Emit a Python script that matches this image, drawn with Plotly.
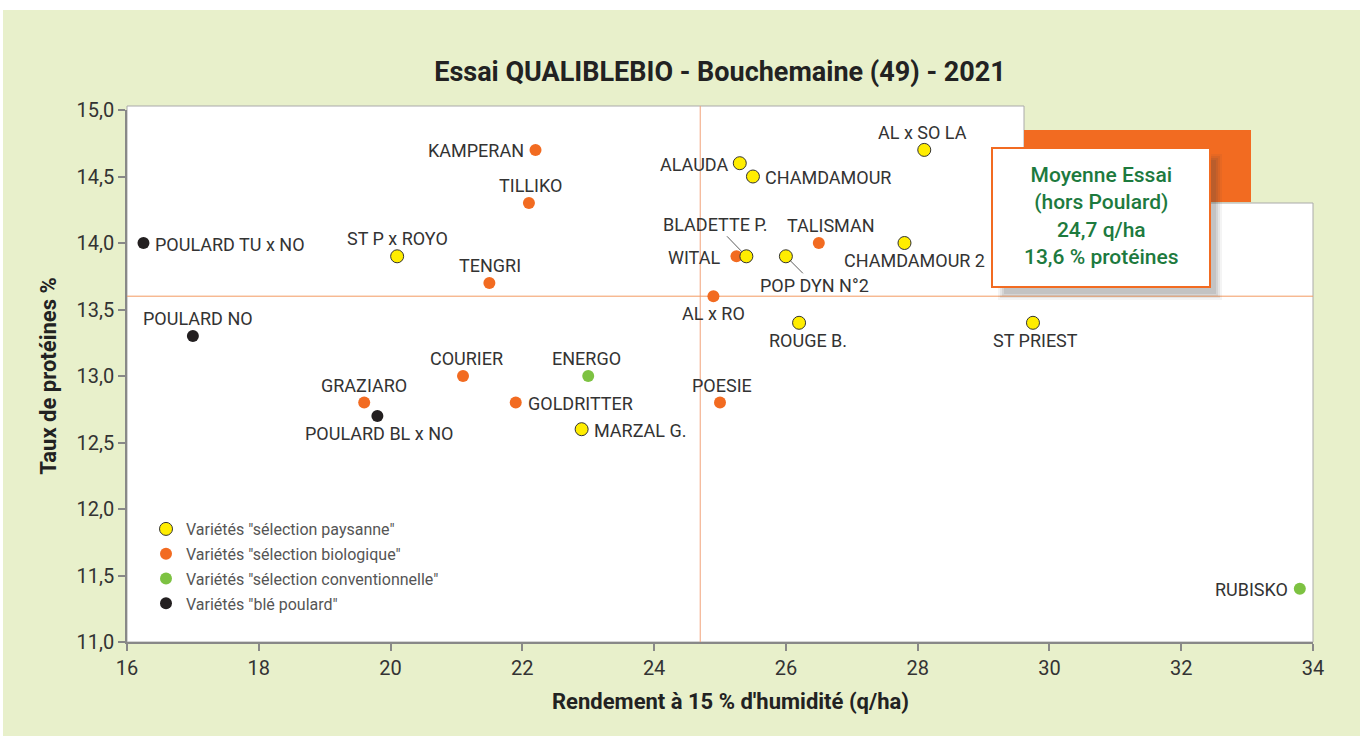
import plotly.graph_objects as go

# ---------------- data ----------------
pays_names = ["ST P x ROYO", "MARZAL G.", "ALAUDA", "CHAMDAMOUR", "BLADETTE P.",
              "POP DYN N°2", "CHAMDAMOUR 2", "AL x SO LA", "ROUGE B.", "ST PRIEST"]
pays_x = [20.1, 22.9, 25.3, 25.5, 25.4, 26.0, 27.8, 28.1, 26.2, 29.75]
pays_y = [13.9, 12.6, 14.6, 14.5, 13.9, 13.9, 14.0, 14.7, 13.4, 13.4]

bio_names = ["KAMPERAN", "TILLIKO", "TENGRI", "COURIER", "GRAZIARO",
             "GOLDRITTER", "POESIE", "AL x RO", "WITAL", "TALISMAN"]
bio_x = [22.2, 22.1, 21.5, 21.1, 19.6, 21.9, 25.0, 24.9, 25.25, 26.5]
bio_y = [14.7, 14.3, 13.7, 13.0, 12.8, 12.8, 12.8, 13.6, 13.9, 14.0]

conv_names = ["ENERGO", "RUBISKO"]
conv_x = [23.0, 33.8]
conv_y = [13.0, 11.4]

poul_names = ["POULARD TU x NO", "POULARD NO", "POULARD BL x NO"]
poul_x = [16.25, 17.0, 19.8]
poul_y = [14.0, 13.3, 12.7]

mean_yield = 24.7
mean_protein = 13.6

x_ticks = [16, 18, 20, 22, 24, 26, 28, 30, 32, 34]
y_ticks = [11.0, 11.5, 12.0, 12.5, 13.0, 13.5, 14.0, 14.5, 15.0]

# ---------------- styles ----------------
W, H = 1360, 736
ML, MR, MT, MB = 127, 47, 110, 94
PW, PH = W - ML - MR, H - MT - MB

def px(xp):
    return (xp - ML) / PW

def py(yp):
    return (H - MB - yp) / PH

GREEN_BG = "#E8F0CB"
ORANGE = "#F26B21"
YELLOW = "#FFED00"
LGREEN = "#7DC242"
BLACK = "#231F20"
TXT = "#333333"
FONT = "Roboto"

# label placement (style): (mode, xshift, yshift)
placement = {
    "POULARD TU x NO": ("right", 0, 0), "KAMPERAN": ("left", 0, 0),
    "TILLIKO": ("top", 2, 0), "ST P x ROYO": ("top", 0, 0), "TENGRI": ("top", 1, 0),
    "POULARD NO": ("top", 5, 0), "COURIER": ("top", 3, 0), "ENERGO": ("top", -2, 0),
    "GRAZIARO": ("top", 0, 0), "POULARD BL x NO": ("below", 2, 0),
    "GOLDRITTER": ("right", 0, 0), "MARZAL G.": ("right", 0, 0),
    "POESIE": ("top", 2, 0), "AL x RO": ("below", 0, 0), "ALAUDA": ("left", 0, 0),
    "CHAMDAMOUR": ("right", 0, 0), "WITAL": ("left", -4, 0),
    "TALISMAN": ("top", 12, 0), "CHAMDAMOUR 2": ("below", 10, 0),
    "AL x SO LA": ("top", -2, 0), "ROUGE B.": ("below", 9, 0),
    "ST PRIEST": ("below", 3, 0), "RUBISKO": ("left", 0, 0),
    "BLADETTE P.": ("arrow", -31, -32), "POP DYN N°2": ("arrow", 29, 29),
}

fig = go.Figure()

fig.add_trace(go.Scatter(
    x=bio_x, y=bio_y, mode="markers", name='Variétés "sélection biologique"',
    marker=dict(color=ORANGE, size=12, line=dict(width=0)),
    legendgroup="b", legendrank=2))
fig.add_trace(go.Scatter(
    x=conv_x, y=conv_y, mode="markers", name='Variétés "sélection conventionnelle"',
    marker=dict(color=LGREEN, size=12, line=dict(width=0)),
    legendgroup="c", legendrank=3))
fig.add_trace(go.Scatter(
    x=poul_x, y=poul_y, mode="markers", name='Variétés "blé poulard"',
    marker=dict(color=BLACK, size=12, line=dict(width=0)),
    legendgroup="d", legendrank=4))
fig.add_trace(go.Scatter(
    x=pays_x, y=pays_y, mode="markers", name='Variétés "sélection paysanne"',
    marker=dict(color=YELLOW, size=13, line=dict(width=1, color="#333333")),
    legendgroup="a", legendrank=1))

annotations = []
all_pts = (list(zip(pays_names, pays_x, pays_y)) + list(zip(bio_names, bio_x, bio_y))
           + list(zip(conv_names, conv_x, conv_y)) + list(zip(poul_names, poul_x, poul_y)))
for name, xv, yv in all_pts:
    mode, dx, dy = placement[name]
    a = dict(x=xv, y=yv, xref="x", yref="y", text=name, showarrow=False,
             font=dict(family=FONT, size=18, color=TXT))
    if mode == "right":
        a.update(xanchor="left", yanchor="middle", xshift=10 + dx, yshift=-1 + dy)
    elif mode == "left":
        a.update(xanchor="right", yanchor="middle", xshift=-10 + dx, yshift=-1 + dy)
    elif mode == "top":
        a.update(xanchor="center", yanchor="bottom", xshift=dx, yshift=5 + dy)
    elif mode == "below":
        a.update(xanchor="center", yanchor="top", xshift=dx, yshift=-5 + dy)
    elif mode == "arrow":
        a.update(showarrow=True, ax=dx, ay=dy, arrowhead=0, arrowwidth=0.8,
                 arrowcolor="#333333", standoff=6)
    annotations.append(a)

# box text
annotations.append(dict(
    xref="paper", yref="paper", x=px(1101), y=py(216), xanchor="center", yanchor="middle",
    text="Moyenne Essai<br>(hors Poulard)<br>24,7 q/ha<br>13,6 % protéines",
    showarrow=False, align="center",
    font=dict(family=FONT, size=21, color="#1D7A3E", weight=500)))

# x axis title (slightly right of the plot centre, as in the original)
annotations.append(dict(
    xref="paper", yref="paper", x=px(731), y=py(701), xanchor="center", yanchor="middle",
    text="<b>Rendement à 15 % d'humidité (q/ha)</b>", showarrow=False,
    font=dict(family=FONT, size=22, color="#222222")))

shapes = []
# white borders of the page
shapes.append(dict(type="rect", xref="paper", yref="paper", x0=px(0), x1=px(W), y0=py(10), y1=py(0),
                   fillcolor="white", line=dict(width=0), layer="below"))
shapes.append(dict(type="rect", xref="paper", yref="paper", x0=px(0), x1=px(3), y0=py(H), y1=py(0),
                   fillcolor="white", line=dict(width=0), layer="below"))
# notched white plot region
path = (f"M {px(127)} {py(106)} L {px(1024)} {py(106)} L {px(1024)} {py(203)} "
        f"L {px(1313)} {py(203)} L {px(1313)} {py(642)} L {px(127)} {py(642)} Z")
shapes.append(dict(type="path", xref="paper", yref="paper", path=path,
                   fillcolor="white", line=dict(color="#AAAAAA", width=1), layer="below"))
# mean lines
shapes.append(dict(type="line", xref="x", yref="paper", x0=mean_yield, x1=mean_yield,
                   y0=0, y1=py(106), line=dict(color="#F2A27A", width=1), layer="below"))
shapes.append(dict(type="line", xref="paper", yref="y", x0=0, x1=1,
                   y0=mean_protein, y1=mean_protein, line=dict(color="#F39A62", width=1),
                   layer="below"))
# orange block
shapes.append(dict(type="rect", xref="paper", yref="paper", x0=px(1024), x1=px(1251),
                   y0=py(202), y1=py(130), fillcolor=ORANGE, line=dict(width=0), layer="above"))
# soft shadow
for i, op in enumerate([0.06, 0.08, 0.10, 0.12]):
    o = 3 + i * 2
    shapes.append(dict(type="rect", xref="paper", yref="paper",
                       x0=px(992 + o + 3), x1=px(1210 + 12 - i * 2), y0=py(287 + 13 - i * 2),
                       y1=py(148 + o + 3),
                       fillcolor=f"rgba(70,70,70,{op})", line=dict(width=0), layer="above"))
# box
shapes.append(dict(type="rect", xref="paper", yref="paper", x0=px(992), x1=px(1210),
                   y0=py(287), y1=py(148), fillcolor="white",
                   line=dict(color=ORANGE, width=2), layer="above"))

fig.update_layout(
    width=W, height=H,
    margin=dict(l=ML, r=MR, t=MT, b=MB),
    paper_bgcolor=GREEN_BG, plot_bgcolor="rgba(0,0,0,0)",
    separators=", ",
    font=dict(family=FONT, color=TXT),
    title=dict(text="<b>Essai QUALIBLEBIO - Bouchemaine (49) - 2021</b>",
               x=0.5, xref="paper", xanchor="center", y=1 - 72 / H, yanchor="middle",
               font=dict(family=FONT, size=27, color="#222222")),
    xaxis=dict(range=[16, 34], tickvals=x_ticks, ticktext=[str(v) for v in x_ticks],
               showgrid=False, zeroline=False, showline=True, linecolor="#888888", linewidth=1.5,
               ticks="outside", ticklen=7, tickcolor="#888888", tickwidth=1.5,
               tickfont=dict(family=FONT, size=20, color=TXT)),
    yaxis=dict(range=[11, 15], tickvals=y_ticks, tickformat=".1f",
               showgrid=False, zeroline=False, showline=True, linecolor="#888888", linewidth=1.5,
               ticks="outside", ticklen=7, tickcolor="#888888", tickwidth=1.5,
               tickfont=dict(family=FONT, size=20, color=TXT),
               title=dict(text="<b>Taux de protéines %</b>", standoff=14,
                          font=dict(family=FONT, size=22, color="#222222"))),
    showlegend=True,
    legend=dict(x=px(146), y=py(512), xanchor="left", yanchor="top",
                bgcolor="rgba(0,0,0,0)", traceorder="grouped", tracegroupgap=1,
                font=dict(family=FONT, size=16, color="#555555"), itemsizing="trace"),
    shapes=shapes,
    annotations=annotations,
)

fig.write_html("out.html", config={"displayModeBar": False},
               post_script="document.body.style.margin='0';document.body.style.overflow='hidden';")
